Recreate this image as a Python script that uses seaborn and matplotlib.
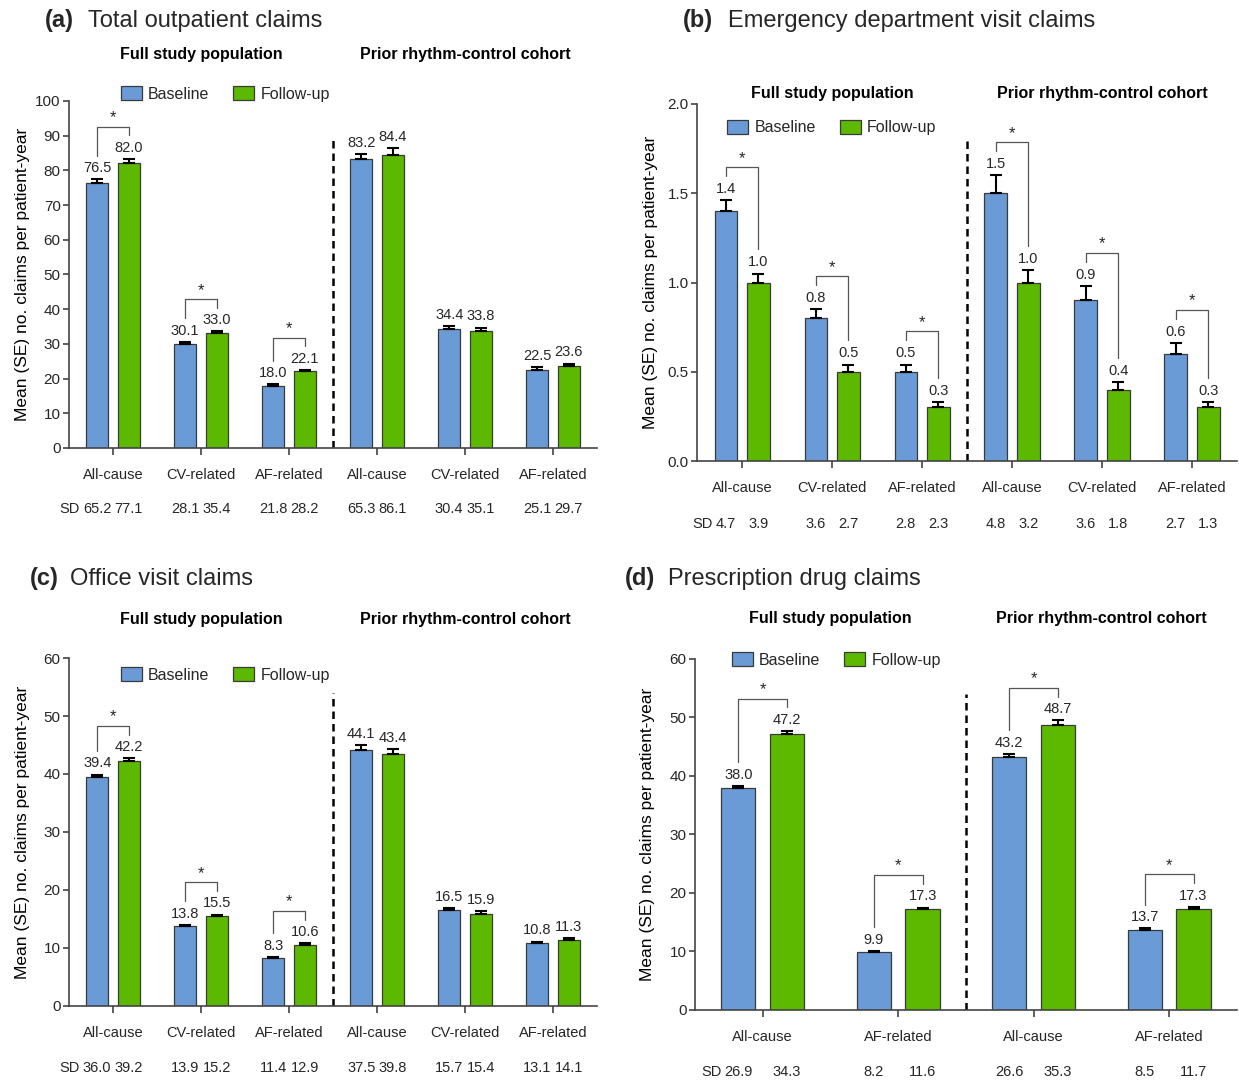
import numpy as np
import pandas as pd
import matplotlib
matplotlib.use("Agg")
import matplotlib.pyplot as plt
import matplotlib.transforms as mtransforms
from matplotlib.patches import Patch
import seaborn as sns

# ---- data ----
periods = ["Baseline", "Follow-up"]
cohorts = ["Full study population", "Prior rhythm-control cohort"]

# (a) Total outpatient claims
cats_a = ["All-cause", "CV-related", "AF-related", "All-cause", "CV-related", "AF-related"]
base_a = [76.5, 30.1, 18.0, 83.2, 34.4, 22.5]
base_se_a = [0.9, 0.5, 0.4, 1.5, 0.7, 0.7]
fu_a = [82.0, 33.0, 22.1, 84.4, 33.8, 23.6]
fu_se_a = [1.3, 0.6, 0.4, 2.0, 0.9, 0.7]
sd_base_a = [65.2, 28.1, 21.8, 65.3, 30.4, 25.1]
sd_fu_a = [77.1, 35.4, 28.2, 86.1, 35.1, 29.7]
sig_a = [True, True, True, False, False, False]

# (b) Emergency department visit claims
cats_b = ["All-cause", "CV-related", "AF-related", "All-cause", "CV-related", "AF-related"]
base_b = [1.4, 0.8, 0.5, 1.5, 0.9, 0.6]
base_se_b = [0.06, 0.05, 0.04, 0.10, 0.08, 0.06]
fu_b = [1.0, 0.5, 0.3, 1.0, 0.4, 0.3]
fu_se_b = [0.05, 0.04, 0.03, 0.07, 0.04, 0.03]
sd_base_b = [4.7, 3.6, 2.8, 4.8, 3.6, 2.7]
sd_fu_b = [3.9, 2.7, 2.3, 3.2, 1.8, 1.3]
sig_b = [True, True, True, True, True, True]

# (c) Office visit claims
cats_c = ["All-cause", "CV-related", "AF-related", "All-cause", "CV-related", "AF-related"]
base_c = [39.4, 13.8, 8.3, 44.1, 16.5, 10.8]
base_se_c = [0.5, 0.2, 0.2, 0.85, 0.4, 0.3]
fu_c = [42.2, 15.5, 10.6, 43.4, 15.9, 11.3]
fu_se_c = [0.5, 0.25, 0.2, 0.9, 0.4, 0.4]
sd_base_c = [36.0, 13.9, 11.4, 37.5, 15.7, 13.1]
sd_fu_c = [39.2, 15.2, 12.9, 39.8, 15.4, 14.1]
sig_c = [True, True, True, False, False, False]

# (d) Prescription drug claims
cats_d = ["All-cause", "AF-related", "All-cause", "AF-related"]
base_d = [38.0, 9.9, 43.2, 13.7]
base_se_d = [0.3, 0.2, 0.6, 0.25]
fu_d = [47.2, 17.3, 48.7, 17.3]
fu_se_d = [0.45, 0.2, 0.8, 0.3]
sd_base_d = [26.9, 8.2, 26.6, 8.5]
sd_fu_d = [34.3, 11.6, 35.3, 11.7]
sig_d = [True, True, True, True]

BLUE = "#6A9BD6"
GREEN = "#5DB800"
TXT = "#262626"

sns.set_theme(style="white")
plt.rcParams["font.family"] = ["Liberation Sans", "DejaVu Sans"]


def draw_panel(ax, cats, base, base_se, fu, fu_se, sd_base, sd_fu, sig,
               ymax, ystep, yfmt, legend_xy, header_y):
    n = len(cats)
    keys = [f"g{i}" for i in range(n)]
    df = pd.DataFrame({
        "group": keys * 2,
        "period": [periods[0]] * n + [periods[1]] * n,
        "value": list(base) + list(fu),
    })
    sns.barplot(data=df, x="group", y="value", hue="period", order=keys,
                hue_order=periods, palette=[BLUE, GREEN], saturation=1,
                width=0.72, gap=0.3, errorbar=None, edgecolor="#3a3a3a",
                linewidth=0.9, legend=False, ax=ax)

    xb = [p.get_x() + p.get_width() / 2 for p in ax.containers[0]]
    xf = [p.get_x() + p.get_width() / 2 for p in ax.containers[1]]

    for xs, vals, ses in [(xb, base, base_se), (xf, fu, fu_se)]:
        ax.errorbar(xs, vals, yerr=[np.zeros(n), ses], fmt="none", ecolor="black",
                    elinewidth=1.5, capsize=4, capthick=1.5, zorder=3)
        for x, v, s in zip(xs, vals, ses):
            ax.annotate(f"{v:.1f}", xy=(x, v + s), xytext=(0, 3),
                        textcoords="offset points", ha="center", va="bottom",
                        fontsize=10.5, color=TXT)

    # significance brackets
    leg_gap = 0.068 * ymax
    rise = 0.025 * ymax
    for i in range(n):
        if not sig[i]:
            continue
        yl = base[i] + base_se[i] + leg_gap
        yr = fu[i] + fu_se[i] + leg_gap
        top = max(yl, yr) + rise
        ax.plot([xb[i], xb[i], xf[i], xf[i]], [yl, top, top, yr],
                color="#555555", lw=0.9, zorder=3)
        ax.annotate("*", xy=((xb[i] + xf[i]) / 2, top), xytext=(0, 1),
                    textcoords="offset points", ha="center", va="bottom",
                    fontsize=12, color=TXT)

    # cohort divider
    split = n / 2 - 0.5
    ax.vlines(split, 0, 0.9 * ymax, colors="black", linestyles=(0, (3, 2)), lw=1.8)

    trans = mtransforms.blended_transform_factory(ax.transData, ax.transAxes)
    half = n // 2
    for k, name in enumerate(cohorts):
        ax.text(k * half + (half - 1) / 2, header_y, name, transform=trans,
                ha="center", va="center", fontsize=11.5, fontweight="bold",
                color="black")

    # SD row
    first = None
    for i in range(n):
        t1 = ax.text(xb[i], -0.177, f"{sd_base[i]:.1f}", transform=trans,
                     ha="center", va="center", fontsize=10.5, color=TXT)
        ax.text(xf[i], -0.177, f"{sd_fu[i]:.1f}", transform=trans,
                ha="center", va="center", fontsize=10.5, color=TXT)
        if first is None:
            first = t1
    ax.annotate("SD", xy=(0, 0.5), xycoords=first, xytext=(-2, 0),
                textcoords="offset points", ha="right", va="center",
                fontsize=10.5, color=TXT)

    ax.set_xlim(-0.5, n - 0.5)
    ax.set_ylim(0, ymax)
    ax.set_xticks(range(n))
    ax.set_xticklabels(cats)
    yt = np.arange(0, ymax + ystep / 2, ystep)
    ax.set_yticks(yt)
    ax.set_yticklabels([yfmt.format(v) for v in yt])
    ax.set_xlabel("")
    ax.set_ylabel("Mean (SE) no. claims per patient-year", fontsize=12.5, color="black")
    ax.yaxis.set_label_coords(-0.073, 0.5)

    ax.tick_params(axis="x", length=5, width=1.1, direction="out", pad=9.5,
                   labelsize=10.5, colors="#333333", labelcolor=TXT, bottom=True)
    ax.tick_params(axis="y", length=4, width=1.1, direction="out", pad=2,
                   labelsize=11, colors="#333333", labelcolor=TXT, left=True)
    for side in ["top", "right"]:
        ax.spines[side].set_visible(False)
    for side in ["left", "bottom"]:
        ax.spines[side].set_color("#444444")
        ax.spines[side].set_linewidth(1.2)

    handles = [Patch(facecolor=BLUE, edgecolor="#3a3a3a", lw=0.9, label=periods[0]),
               Patch(facecolor=GREEN, edgecolor="#3a3a3a", lw=0.9, label=periods[1])]
    ax.legend(handles=handles, loc="center left", bbox_to_anchor=legend_xy, ncol=2,
              frameon=False, fontsize=11.5, handlelength=1.3, handleheight=0.9,
              handletextpad=0.4, columnspacing=1.5, borderpad=0, borderaxespad=0)


fig = plt.figure(figsize=(12.39, 10.81), dpi=100)
ax_a = fig.add_axes([0.0557, 0.5856, 0.4262, 0.3210])
ax_b = fig.add_axes([0.5626, 0.5735, 0.4358, 0.3303])
ax_c = fig.add_axes([0.0557, 0.0694, 0.4262, 0.3219])
ax_d = fig.add_axes([0.5609, 0.0657, 0.4374, 0.3247])

draw_panel(ax_a, cats_a, base_a, base_se_a, fu_a, fu_se_a, sd_base_a, sd_fu_a, sig_a,
           100, 10, "{:.0f}", (0.098, 1.02), 1.135)
draw_panel(ax_b, cats_b, base_b, base_se_b, fu_b, fu_se_b, sd_base_b, sd_fu_b, sig_b,
           2.0, 0.5, "{:.1f}", (0.056, 0.933), 1.028)
draw_panel(ax_c, cats_c, base_c, base_se_c, fu_c, fu_se_c, sd_base_c, sd_fu_c, sig_c,
           60, 10, "{:.0f}", (0.098, 0.951), 1.112)
draw_panel(ax_d, cats_d, base_d, base_se_d, fu_d, fu_se_d, sd_base_d, sd_fu_d, sig_d,
           60, 10, "{:.0f}", (0.068, 0.997), 1.114)

titles = [("(a)", "Total outpatient claims", 0.0363, 0.0710, 0.9746),
          ("(b)", "Emergency department visit claims", 0.5513, 0.5876, 0.9746),
          ("(c)", "Office visit claims", 0.0242, 0.0565, 0.4588),
          ("(d)", "Prescription drug claims", 0.5044, 0.5391, 0.4588)]
for tag, name, x0, x1, y in titles:
    fig.text(x0, y, tag, fontsize=17, fontweight="bold", va="baseline", ha="left")
    fig.text(x1, y, name, fontsize=17, va="baseline", ha="left")

fig.savefig("out.png", dpi=100)
